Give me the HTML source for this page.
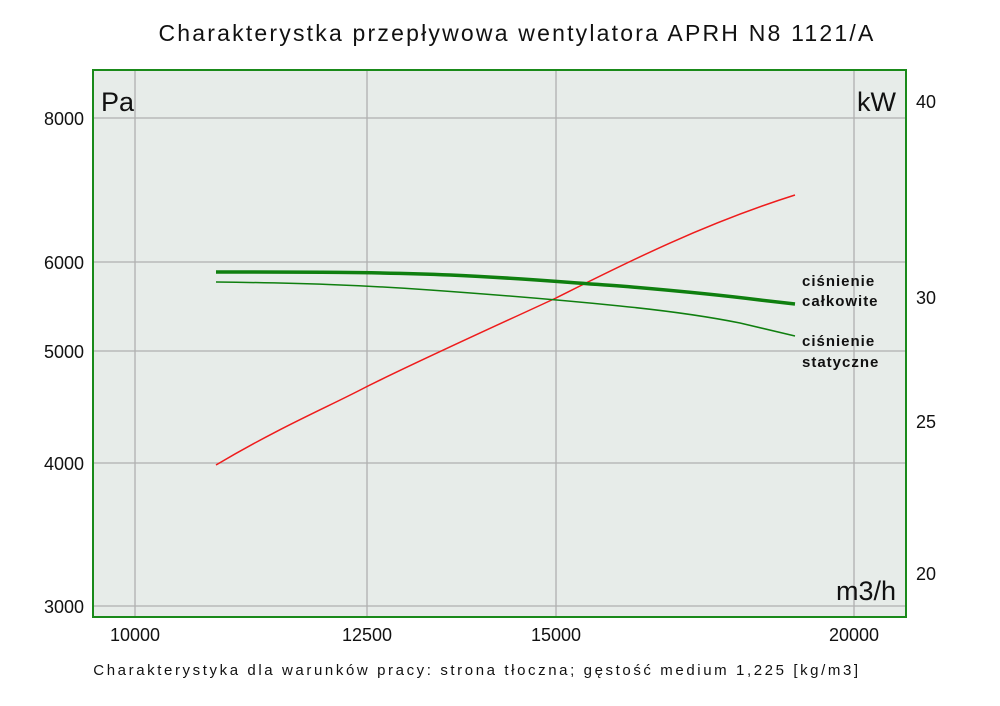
<!DOCTYPE html>
<html><head><meta charset="utf-8"><style>
body{margin:0;background:#fff;width:1000px;height:706px;overflow:hidden}
svg{display:block}
text{font-family:"Liberation Sans","DejaVu Sans",sans-serif;fill:#111}
</style></head><body>
<svg width="1000" height="706" viewBox="0 0 1000 706">
<rect x="93" y="70" width="813" height="547" fill="#e7ece9" stroke="#1a8a1a" stroke-width="2"/>
<g stroke="#b0b0b0" stroke-width="1.3">
<line x1="135" y1="71" x2="135" y2="616"/>
<line x1="367" y1="71" x2="367" y2="616"/>
<line x1="556" y1="71" x2="556" y2="616"/>
<line x1="854" y1="71" x2="854" y2="616"/>
<line x1="94" y1="118" x2="905" y2="118"/>
<line x1="94" y1="262" x2="905" y2="262"/>
<line x1="94" y1="351" x2="905" y2="351"/>
<line x1="94" y1="463" x2="905" y2="463"/>
<line x1="94" y1="606" x2="905" y2="606"/>
</g>
<text x="517" y="41" font-size="23" text-anchor="middle" letter-spacing="2.2">Charakterystka przepływowa wentylatora APRH N8 1121/A</text>
<text x="101" y="111" font-size="27">Pa</text>
<text x="896" y="111" font-size="27" text-anchor="end">kW</text>
<text x="896" y="600" font-size="27" text-anchor="end">m3/h</text>
<g font-size="18" text-anchor="end">
<text x="84" y="125">8000</text><text x="84" y="269">6000</text><text x="84" y="358">5000</text><text x="84" y="470">4000</text><text x="84" y="613">3000</text>
</g>
<g font-size="18">
<text x="916" y="108">40</text><text x="916" y="304">30</text><text x="916" y="428">25</text><text x="916" y="580">20</text>
</g>
<g font-size="18" text-anchor="middle">
<text x="135" y="641">10000</text><text x="367" y="641">12500</text><text x="556" y="641">15000</text><text x="854" y="641">20000</text>
</g>
<text x="477" y="675" font-size="15" text-anchor="middle" letter-spacing="2.6">Charakterystyka dla warunków pracy: strona tłoczna; gęstość medium 1,225 [kg/m3]</text>
<path d="M216,465 C280,427 330,406 366,387 C420,360 500,324 556,298 C620,266 700,225 795,195" fill="none" stroke="#ee1c1c" stroke-width="1.5"/>
<path d="M216,272 C300,272 380,272 450,275 C520,278 560,282 620,286 C680,291 720,295 760,300 L795,304" fill="none" stroke="#0f7f0f" stroke-width="3.5"/>
<path d="M216,282 C300,283 360,285 430,290 C500,295 560,300 620,306 C680,312 715,318 740,323 L795,336" fill="none" stroke="#0f7f0f" stroke-width="1.5"/>
<g font-size="15" letter-spacing="1" style="font-weight:600">
<text x="802" y="286">ciśnienie</text><text x="802" y="306">całkowite</text>
<text x="802" y="346">ciśnienie</text><text x="802" y="367">statyczne</text>
</g>
</svg>
</body></html>
